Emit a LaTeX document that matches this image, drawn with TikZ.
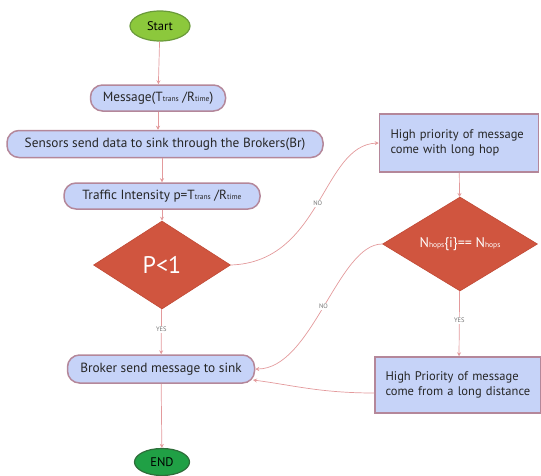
\documentclass[tikz,border=0pt]{standalone}
\usepackage{fontspec}
\setmainfont{PT Sans}
\usetikzlibrary{shapes.geometric,arrows.meta}
\definecolor{boxfill}{HTML}{C6D3F8}
\definecolor{boxline}{HTML}{B4879A}
\definecolor{arrowc}{HTML}{E39A9C}
\definecolor{decfill}{HTML}{D0553F}
\definecolor{decline}{HTML}{C04A36}
\definecolor{startfill}{HTML}{8CC83C}
\definecolor{startline}{HTML}{6A9A3A}
\definecolor{endfill}{HTML}{20A045}
\definecolor{endline}{HTML}{2E6E3A}
\newcommand{\sbs}[1]{{\fontsize{7.5}{8}\selectfont #1}}
\begin{document}
\begin{tikzpicture}[x=1pt,y=-1pt,
  roundbox/.style={draw=boxline, line width=1.5pt, fill=boxfill, rounded corners=12pt,
    inner sep=0pt, font=\fontsize{13.3}{15}\selectfont, text=black!85},
  sqbox/.style={draw=boxline, line width=1.5pt, fill=boxfill, inner sep=0pt,
    align=left, font=\fontsize{12.5}{15.5}\selectfont, text=black!85},
  decision/.style={diamond, fill=decfill, draw=decline, line width=0.6pt, inner sep=0pt, text=white},
  terminal/.style={ellipse, inner sep=0pt, line width=1.2pt, font=\fontsize{12.5}{14}\selectfont},
  conn/.style={draw=arrowc, line width=0.7pt, -{Stealth[length=4pt,width=4pt]}},
  lbl/.style={fill=white, inner sep=1pt, text=black!55, font=\fontsize{6.5}{7}\selectfont}
]
\useasboundingbox (0,0) rectangle (541,475);

% left column
\node[terminal, fill=startfill, draw=startline, minimum width=60pt, minimum height=30pt] (start) at (160,26) {Start};
\node[roundbox, minimum width=135pt, minimum height=26pt] (msg) at (158,98)
  {Message(T\sbs{trans} /R\sbs{time})};
\node[roundbox, minimum width=316pt, minimum height=27pt] (sens) at (165,144)
  {Sensors send data to sink through the Brokers(Br)};
\node[roundbox, minimum width=196pt, minimum height=26pt] (traf) at (162,196)
  {Traffic Intensity p=T\sbs{trans} /R\sbs{time}};
\node[decision, minimum width=137pt, minimum height=88pt] (p1) at (162,265)
  {\fontsize{24}{26}\selectfont P<1};
\node[roundbox, minimum width=187pt, minimum height=28pt] (brk) at (161,369)
  {Broker send message to sink};
\node[terminal, fill=endfill, draw=endline, minimum width=55pt, minimum height=27pt] (fin) at (162,462) {END};

% right column
\node[sqbox, minimum width=159pt, minimum height=58pt, text width=137pt] (hp1) at (459,143)
  {High priority of message\\come with long hop\\[1pt]};
\node[decision, minimum width=155pt, minimum height=92pt] (nh) at (460,244)
  {\fontsize{14}{16}\selectfont N\sbs{hops}\{i\}== N\sbs{hops}};
\node[sqbox, minimum width=166pt, minimum height=56pt, text width=145pt] (hp2) at (458,385)
  {High Priority of message\\come from a long distance\\[1pt]};

\coordinate (brkin) at (253,380);

% connectors
\draw[conn] (start) -- (msg);
\draw[conn] (msg) -- (msg |- sens.north);
\draw[conn] (sens.south -| traf) -- (traf);
\draw[conn] (traf) -- (p1);
\draw[conn] (p1) -- node[lbl, pos=0.45] {YES} (brk);
\draw[conn] (brk) -- (fin);
\draw[conn] (p1.east) .. controls (322,262) and (322,145) .. node[lbl, pos=0.5] {NO} (hp1.west);
\draw[conn] (hp1) -- (nh);
\draw[conn] (nh) -- node[lbl, pos=0.45] {YES} (hp1 |- hp2.north);
\draw[conn] (nh.west) .. controls (338,244) and (312,369) .. node[lbl, pos=0.5] {NO} (brk.east);
\draw[conn] (hp2.west |- 0,393) .. controls (320,393) and (292,385) .. (brkin);
\end{tikzpicture}
\end{document}
